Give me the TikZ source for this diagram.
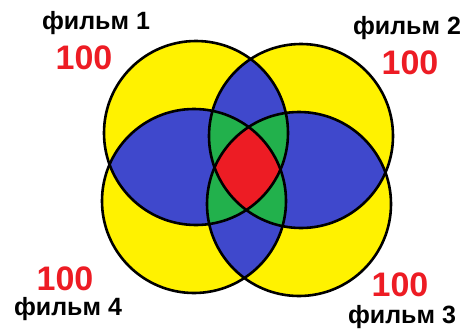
\documentclass[tikz,border=0pt]{standalone}
\usepackage{fontspec}
\setmainfont{Liberation Sans}
\usepackage{xcolor}
\usepackage{tikz}

\definecolor{vennyellow}{RGB}{255,242,0}
\definecolor{vennblue}{RGB}{63,72,204}
\definecolor{venngreen}{RGB}{34,177,76}
\definecolor{vennred}{RGB}{237,28,36}

\begin{document}
\begin{tikzpicture}[
    x=1pt,y=-1pt,
    ring/.style={draw=black,line width=2.6pt},
    title/.style={font=\bfseries\fontsize{25}{25}\selectfont,text=black,inner sep=0pt},
    count/.style={font=\bfseries\fontsize{34}{34}\selectfont,text=vennred,inner sep=0pt}
  ]
    \useasboundingbox (0,0) rectangle (469,332);
    \def\rad{92}
    \coordinate (c1) at (196,133);
    \coordinate (c2) at (301,136);
    \coordinate (c3) at (299,204);
    \coordinate (c4) at (194,201);

    % one film
    \foreach \i in {c1,c2,c3,c4}
      \fill[vennyellow] (\i) circle (\rad);
    % two films
    \foreach \i/\j in {c1/c2,c1/c3,c1/c4,c2/c3,c2/c4,c3/c4} {
      \begin{scope}
        \clip (\i) circle (\rad);
        \fill[vennblue] (\j) circle (\rad);
      \end{scope}
    }
    % three films
    \foreach \i/\j/\k in {c1/c2/c3,c1/c2/c4,c1/c3/c4,c2/c3/c4} {
      \begin{scope}
        \clip (\i) circle (\rad);
        \clip (\j) circle (\rad);
        \fill[venngreen] (\k) circle (\rad);
      \end{scope}
    }
    % all four
    \begin{scope}
      \clip (c1) circle (\rad);
      \clip (c2) circle (\rad);
      \clip (c3) circle (\rad);
      \fill[vennred] (c4) circle (\rad);
    \end{scope}
    \foreach \i in {c1,c2,c3,c4}
      \draw[ring] (\i) circle (\rad);

    \node[title] (film1) at (96,23) {фильм 1};
    \node[count] (num1) at (84,58) {100};
    \node[title] (film2) at (407,28) {фильм 2};
    \node[count] (num2) at (410,63) {100};
    \node[title] (film3) at (402,317) {фильм 3};
    \node[count] (num3) at (400,285) {100};
    \node[title] (film4) at (68,309) {фильм 4};
    \node[count] (num4) at (65,279) {100};
  \end{tikzpicture}
\end{document}
